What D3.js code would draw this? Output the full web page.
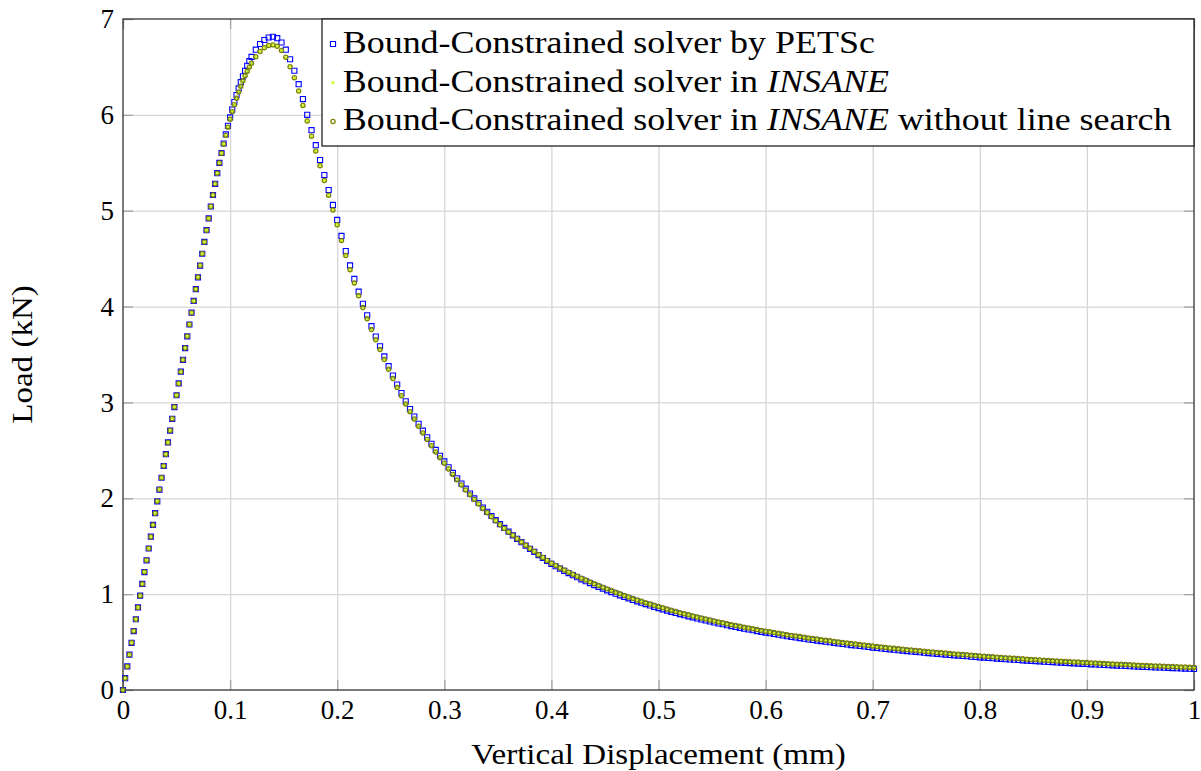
<!DOCTYPE html>
<html>
<head>
<meta charset="utf-8">
<script src="https://cdnjs.cloudflare.com/ajax/libs/d3/7.8.5/d3.min.js"></script>
<style>
	body { margin: 0; background: #ffffff; }
</style>
</head>
<body>
<svg id="chart"></svg>
<script>
//=================== DATA =====================================================
// displacement in mm: small steps up to 0.12, bigger steps after the peak
var displacement = [
	0, 0.002, 0.004, 0.006, 0.008, 0.010, 0.012, 0.014, 0.016, 0.018,
	0.020, 0.022, 0.024, 0.026, 0.028, 0.030, 0.032, 0.034, 0.036, 0.038,
	0.040, 0.042, 0.044, 0.046, 0.048, 0.050, 0.052, 0.054, 0.056, 0.058,
	0.060, 0.062, 0.064, 0.066, 0.068, 0.070, 0.072, 0.074, 0.076, 0.078,
	0.080, 0.082, 0.084, 0.086, 0.088, 0.090, 0.092, 0.094, 0.096, 0.098,
	0.100, 0.102, 0.104, 0.106, 0.108, 0.110, 0.112, 0.114, 0.116, 0.118,
	0.120,
	0.124, 0.128, 0.132, 0.136, 0.140, 0.144, 0.148, 0.152, 0.156, 0.160,
	0.164, 0.168, 0.172, 0.176, 0.180, 0.184, 0.188, 0.192, 0.196, 0.200,
	0.204, 0.208, 0.212, 0.216, 0.220, 0.224, 0.228, 0.232, 0.236, 0.240,
	0.244, 0.248, 0.252, 0.256, 0.260, 0.264, 0.268, 0.272, 0.276, 0.280,
	0.284, 0.288, 0.292, 0.296, 0.300, 0.304, 0.308, 0.312, 0.316, 0.320,
	0.324, 0.328, 0.332, 0.336, 0.340, 0.344, 0.348, 0.352, 0.356, 0.360,
	0.364, 0.368, 0.372, 0.376, 0.380, 0.384, 0.388, 0.392, 0.396, 0.400,
	0.404, 0.408, 0.412, 0.416, 0.420, 0.424, 0.428, 0.432, 0.436, 0.440,
	0.444, 0.448, 0.452, 0.456, 0.460, 0.464, 0.468, 0.472, 0.476, 0.480,
	0.484, 0.488, 0.492, 0.496, 0.500, 0.504, 0.508, 0.512, 0.516, 0.520,
	0.524, 0.528, 0.532, 0.536, 0.540, 0.544, 0.548, 0.552, 0.556, 0.560,
	0.564, 0.568, 0.572, 0.576, 0.580, 0.584, 0.588, 0.592, 0.596, 0.600,
	0.604, 0.608, 0.612, 0.616, 0.620, 0.624, 0.628, 0.632, 0.636, 0.640,
	0.644, 0.648, 0.652, 0.656, 0.660, 0.664, 0.668, 0.672, 0.676, 0.680,
	0.684, 0.688, 0.692, 0.696, 0.700, 0.704, 0.708, 0.712, 0.716, 0.720,
	0.724, 0.728, 0.732, 0.736, 0.740, 0.744, 0.748, 0.752, 0.756, 0.760,
	0.764, 0.768, 0.772, 0.776, 0.780, 0.784, 0.788, 0.792, 0.796, 0.800,
	0.804, 0.808, 0.812, 0.816, 0.820, 0.824, 0.828, 0.832, 0.836, 0.840,
	0.844, 0.848, 0.852, 0.856, 0.860, 0.864, 0.868, 0.872, 0.876, 0.880,
	0.884, 0.888, 0.892, 0.896, 0.900, 0.904, 0.908, 0.912, 0.916, 0.920,
	0.924, 0.928, 0.932, 0.936, 0.940, 0.944, 0.948, 0.952, 0.956, 0.960,
	0.964, 0.968, 0.972, 0.976, 0.980, 0.984, 0.988, 0.992, 0.996, 1.000
];

// load in kN, PETSc run
var loadPETSc = [
	0, 0.123, 0.246, 0.369, 0.492, 0.615, 0.738, 0.861, 0.984, 1.107,
	1.230, 1.353, 1.476, 1.599, 1.722, 1.845, 1.968, 2.091, 2.214, 2.337,
	2.460, 2.583, 2.706, 2.829, 2.952, 3.075, 3.198, 3.321, 3.444, 3.567,
	3.690, 3.813, 3.936, 4.059, 4.182, 4.305, 4.428, 4.551, 4.674, 4.797,
	4.920, 5.044, 5.164, 5.280, 5.392, 5.499, 5.602, 5.701, 5.796, 5.886,
	5.973, 6.055, 6.133, 6.206, 6.276, 6.341, 6.402, 6.459, 6.512, 6.560,
	6.604,
	6.680, 6.739, 6.781, 6.807, 6.815, 6.800, 6.755, 6.680, 6.580, 6.460,
	6.320, 6.165, 6.000, 5.840, 5.684, 5.528, 5.372, 5.216, 5.060, 4.904,
	4.737, 4.579, 4.429, 4.288, 4.155, 4.029, 3.909, 3.796, 3.688, 3.586,
	3.480, 3.378, 3.280, 3.187, 3.098, 3.012, 2.931, 2.852, 2.777, 2.705,
	2.636, 2.569, 2.505, 2.444, 2.385, 2.324, 2.265, 2.208, 2.153, 2.100,
	2.049, 1.999, 1.951, 1.904, 1.859, 1.815, 1.772, 1.731, 1.691, 1.652,
	1.614, 1.577, 1.542, 1.507, 1.473, 1.440, 1.408, 1.377, 1.346, 1.316,
	1.291, 1.267, 1.243, 1.220, 1.198, 1.176, 1.155, 1.135, 1.115, 1.095,
	1.076, 1.058, 1.040, 1.022, 1.005, 0.988, 0.972, 0.956, 0.940, 0.925,
	0.910, 0.896, 0.882, 0.868, 0.855, 0.842, 0.829, 0.816, 0.804, 0.792,
	0.780, 0.769, 0.758, 0.747, 0.736, 0.726, 0.715, 0.705, 0.695, 0.686,
	0.676, 0.667, 0.658, 0.649, 0.640, 0.632, 0.624, 0.615, 0.607, 0.599,
	0.592, 0.584, 0.577, 0.569, 0.562, 0.555, 0.548, 0.542, 0.535, 0.528,
	0.522, 0.516, 0.510, 0.504, 0.498, 0.492, 0.486, 0.480, 0.475, 0.469,
	0.464, 0.459, 0.454, 0.449, 0.443, 0.439, 0.434, 0.429, 0.424, 0.420,
	0.415, 0.411, 0.406, 0.402, 0.398, 0.394, 0.389, 0.385, 0.381, 0.377,
	0.374, 0.370, 0.366, 0.362, 0.359, 0.355, 0.352, 0.348, 0.345, 0.341,
	0.338, 0.335, 0.332, 0.328, 0.325, 0.322, 0.319, 0.316, 0.313, 0.310,
	0.307, 0.304, 0.302, 0.299, 0.296, 0.293, 0.291, 0.288, 0.286, 0.283,
	0.281, 0.278, 0.276, 0.273, 0.271, 0.268, 0.266, 0.264, 0.262, 0.259,
	0.257, 0.255, 0.253, 0.251, 0.248, 0.246, 0.244, 0.242, 0.240, 0.238,
	0.236, 0.235, 0.233, 0.231, 0.229, 0.227, 0.225, 0.224, 0.222, 0.220
];

// load in kN, INSANE run (lower peak, sits a little above PETSc in the tail)
var loadINSANE = [
	0, 0.123, 0.246, 0.369, 0.492, 0.615, 0.738, 0.861, 0.984, 1.107,
	1.230, 1.353, 1.476, 1.599, 1.722, 1.845, 1.968, 2.091, 2.214, 2.337,
	2.460, 2.583, 2.706, 2.829, 2.952, 3.075, 3.198, 3.321, 3.444, 3.567,
	3.690, 3.813, 3.936, 4.059, 4.182, 4.305, 4.428, 4.551, 4.674, 4.797,
	4.920, 5.044, 5.164, 5.280, 5.392, 5.499, 5.599, 5.695, 5.786, 5.872,
	5.955, 6.033, 6.106, 6.174, 6.239, 6.299, 6.355, 6.407, 6.455, 6.498,
	6.538,
	6.607, 6.661, 6.699, 6.723, 6.730, 6.715, 6.672, 6.600, 6.503, 6.386,
	6.249, 6.097, 5.935, 5.777, 5.623, 5.469, 5.315, 5.161, 5.007, 4.853,
	4.688, 4.532, 4.384, 4.245, 4.114, 3.990, 3.872, 3.760, 3.653, 3.552,
	3.447, 3.346, 3.249, 3.157, 3.069, 2.984, 2.904, 2.826, 2.752, 2.681,
	2.613, 2.547, 2.484, 2.424, 2.366, 2.306, 2.248, 2.192, 2.138, 2.086,
	2.036, 1.987, 1.940, 1.894, 1.850, 1.807, 1.765, 1.725, 1.686, 1.648,
	1.614, 1.578, 1.544, 1.510, 1.476, 1.444, 1.412, 1.382, 1.351, 1.322,
	1.298, 1.274, 1.251, 1.229, 1.208, 1.186, 1.166, 1.147, 1.128, 1.109,
	1.091, 1.073, 1.055, 1.037, 1.020, 1.003, 0.987, 0.971, 0.955, 0.940,
	0.925, 0.911, 0.897, 0.883, 0.870, 0.857, 0.844, 0.831, 0.819, 0.807,
	0.795, 0.784, 0.773, 0.762, 0.751, 0.741, 0.730, 0.720, 0.710, 0.701,
	0.691, 0.682, 0.673, 0.664, 0.655, 0.647, 0.639, 0.630, 0.622, 0.614,
	0.607, 0.599, 0.592, 0.584, 0.577, 0.570, 0.563, 0.557, 0.550, 0.543,
	0.537, 0.531, 0.525, 0.519, 0.513, 0.507, 0.501, 0.495, 0.490, 0.484,
	0.479, 0.474, 0.469, 0.464, 0.458, 0.454, 0.449, 0.444, 0.439, 0.435,
	0.430, 0.426, 0.421, 0.417, 0.413, 0.409, 0.404, 0.400, 0.396, 0.392,
	0.389, 0.385, 0.381, 0.377, 0.374, 0.370, 0.367, 0.363, 0.360, 0.356,
	0.353, 0.350, 0.347, 0.343, 0.340, 0.337, 0.334, 0.331, 0.328, 0.325,
	0.322, 0.319, 0.317, 0.314, 0.311, 0.308, 0.306, 0.303, 0.301, 0.298,
	0.296, 0.293, 0.291, 0.288, 0.286, 0.283, 0.281, 0.279, 0.277, 0.274,
	0.272, 0.270, 0.268, 0.266, 0.263, 0.261, 0.259, 0.257, 0.255, 0.253,
	0.251, 0.250, 0.248, 0.246, 0.244, 0.242, 0.240, 0.239, 0.237, 0.235
];

// the run without line search lands on the same points as the INSANE run
var loadINSANEnoLS = loadINSANE.slice();

var xTickValues = [0, 0.1, 0.2, 0.3, 0.4, 0.5, 0.6, 0.7, 0.8, 0.9, 1];
var xTickLabels = ["0", "0.1", "0.2", "0.3", "0.4", "0.5", "0.6", "0.7", "0.8", "0.9", "1"];
var yTickValues = [0, 1, 2, 3, 4, 5, 6, 7];
var yTickLabels = ["0", "1", "2", "3", "4", "5", "6", "7"];

// legend pieces: odd entries are set in italics
var legendLabels = [
	["Bound-Constrained solver by PETSc"],
	["Bound-Constrained solver in ", "INSANE"],
	["Bound-Constrained solver in ", "INSANE", " without line search"]
];
var xAxisTitle = "Vertical Displacement (mm)";
var yAxisTitle = "Load (kN)";


function loadDisplacementChart(targetDOMelement) {
	var chartObject = {};

	//=================== PUBLIC FUNCTIONS =========================
	chartObject.loadAndRenderDataset = function (data) {
		dataset = data;
		render();
		return chartObject;
	}

	//=================== PRIVATE VARIABLES ====================================
	var svgWidth = 1201;
	var svgHeight = 771;
	var margin = { left: 123, right: 7, top: 19, bottom: 81 };
	var plotWidth = svgWidth - margin.left - margin.right;
	var plotHeight = svgHeight - margin.top - margin.bottom;
	var tickLength = 10;
	var fontStack = "'Liberation Serif', 'DejaVu Serif', 'Times New Roman', Times, serif";
	var textStretch = 1.16; // Liberation Serif is narrower than Computer Modern
	var dataset = [];

	var xScale = d3.scaleLinear().domain([0, 1]).range([0, plotWidth]);
	var yScale = d3.scaleLinear().domain([0, 7]).range([plotHeight, 0]);

	// marker outlines, drawn round (0,0); the circle fits inside the square
	var squareMark = d3.symbol(d3.symbolSquare, 26);
	var circleMark = d3.symbol(d3.symbolCircle, 14);
	var plusMark = function () { return "M-2,0H2M0,-2V2"; };

	// one marker style per series, same order as the dataset
	var markerStyles = [
		{ path: squareMark, colour: "#0000ff", width: 1.1 },
		{ path: plusMark, colour: "#bfff00", width: 1 },
		{ path: circleMark, colour: "#808000", width: 1.25 }
	];

	var svg = d3.select(targetDOMelement)
		.attr("width", svgWidth)
		.attr("height", svgHeight)
		.style("font-family", fontStack);

	var grp = svg.append("g")
		.attr("transform", "translate(" + [margin.left, margin.top] + ")");

	//=================== PRIVATE FUNCTIONS ====================================
	function render() {
		drawGrid();
		drawAxes();
		drawMarks();
		drawLegend();
		drawTitles();
	}

	function drawGrid() {
		var vGrid = grp.append("g")
			.call(d3.axisBottom(xScale)
				.tickValues(xTickValues.slice(1, -1))
				.tickSize(plotHeight)
				.tickFormat(""));
		var hGrid = grp.append("g")
			.call(d3.axisLeft(yScale)
				.tickValues(yTickValues.slice(1, -1))
				.tickSize(-plotWidth)
				.tickFormat(""));
		[vGrid, hGrid].forEach(function (g) {
			g.select(".domain").remove();
			g.selectAll("line").attr("stroke", "#d6d6d6").attr("stroke-width", 1.3);
		});
	}

	function drawAxes() {
		var bottom = grp.append("g")
			.attr("transform", "translate(0," + plotHeight + ")")
			.call(d3.axisBottom(xScale)
				.tickValues(xTickValues)
				.tickSize(-tickLength)
				.tickPadding(29)
				.tickFormat(function (d, i) { return xTickLabels[i]; }));
		bottom.selectAll("text").attr("dy", null);

		var left = grp.append("g")
			.call(d3.axisLeft(yScale)
				.tickValues(yTickValues)
				.tickSize(-tickLength)
				.tickPadding(9)
				.tickFormat(function (d, i) { return yTickLabels[i]; }));

		var top = grp.append("g")
			.call(d3.axisTop(xScale).tickValues(xTickValues).tickSize(-tickLength).tickFormat(""));
		var right = grp.append("g")
			.attr("transform", "translate(" + plotWidth + ",0)")
			.call(d3.axisRight(yScale).tickValues(yTickValues).tickSize(-tickLength).tickFormat(""));

		[bottom, left, top, right].forEach(function (g) {
			g.attr("font-family", null).attr("font-size", null);
			g.select(".domain").remove();
			g.selectAll("line").attr("stroke", "#a4a4a4").attr("stroke-width", 1.3);
			g.selectAll("text")
				.style("font-family", fontStack)
				.style("font-size", "27px")
				.attr("fill", "#000000");
		});

		// frame round the plot area
		grp.append("rect")
			.attr("x", 0)
			.attr("y", 0)
			.attr("width", plotWidth)
			.attr("height", plotHeight)
			.attr("fill", "none")
			.attr("stroke", "#333333")
			.attr("stroke-width", 1.3);
	}

	function drawMarks() {
		var seriesGrp = grp.selectAll("g.series")
			.data(dataset)
			.enter()
			.append("g")
			.classed("series", true);

		seriesGrp.each(function (s, k) {
			var style = markerStyles[k];
			var points = displacement.map(function (x, i) { return { x: x, y: s.load[i] }; });
			d3.select(this)
				.selectAll("path")
				.data(points)
				.enter()
				.append("path")
				.attr("d", style.path)
				.attr("transform", function (d) {
					return "translate(" + [xScale(d.x), yScale(d.y)] + ")";
				})
				.attr("fill", "none")
				.attr("stroke", style.colour)
				.attr("stroke-width", style.width);
		});
	}

	function drawLegend() {
		var boxWidth = 872;
		var boxHeight = 127;
		var rowStep = 38.7;
		var legend = grp.append("g")
			.attr("transform", "translate(" + [plotWidth - boxWidth, 0] + ")");

		legend.append("rect")
			.attr("width", boxWidth)
			.attr("height", boxHeight)
			.attr("fill", "#ffffff")
			.attr("stroke", "#222222")
			.attr("stroke-width", 1.3);

		var rows = legend.selectAll("g.row")
			.data(dataset)
			.enter()
			.append("g")
			.classed("row", true)
			.attr("transform", function (d, i) { return "translate(" + [11, 25 + i * rowStep] + ")"; });

		rows.append("path")
			.attr("d", function (d, i) { return markerStyles[i].path(); })
			.attr("fill", "none")
			.attr("stroke", function (d, i) { return markerStyles[i].colour; })
			.attr("stroke-width", function (d, i) { return markerStyles[i].width; });

		var label = rows.append("g")
			.attr("transform", "translate(9.7,9) scale(" + textStretch + ",1)")
			.append("text")
			.style("font-family", fontStack)
			.style("font-size", "31px")
			.attr("fill", "#000000");

		label.selectAll("tspan")
			.data(function (d) { return d.label; })
			.enter()
			.append("tspan")
			.style("font-style", function (d, i) { return i % 2 === 1 ? "italic" : "normal"; })
			.text(function (d) { return d; });
	}

	function drawTitles() {
		svg.append("g")
			.attr("transform", "translate(" + [margin.left + plotWidth / 2, 764] + ") scale(" + textStretch + ",1)")
			.append("text")
			.attr("text-anchor", "middle")
			.style("font-family", fontStack)
			.style("font-size", "28.5px")
			.text(xAxisTitle);

		svg.append("g")
			.attr("transform", "translate(" + [32, margin.top + plotHeight / 2] + ") rotate(-90) scale(" + textStretch + ",1)")
			.append("text")
			.attr("text-anchor", "middle")
			.style("font-family", fontStack)
			.style("font-size", "28.5px")
			.text(yAxisTitle);
	}

	//================== IMPORTANT do not delete ==================================
	return chartObject;
}

var seriesData = [
	{ label: legendLabels[0], load: loadPETSc },
	{ label: legendLabels[1], load: loadINSANE },
	{ label: legendLabels[2], load: loadINSANEnoLS }
];

var chart = loadDisplacementChart(document.getElementById("chart"))
	.loadAndRenderDataset(seriesData);
</script>
</body>
</html>
